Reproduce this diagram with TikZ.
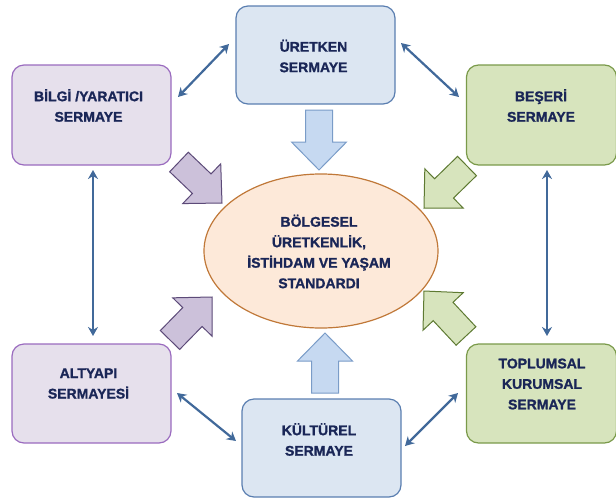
\documentclass[tikz,border=0pt]{standalone}
\usepackage{fontspec}
\setmainfont{Liberation Sans}[BoldFeatures={FakeBold=1.2}]
\usetikzlibrary{arrows.meta,calc,shapes.geometric}
\definecolor{txt}{HTML}{1A2657}
\definecolor{bluefill}{HTML}{DCE6F2}
\definecolor{blueline}{HTML}{5A7EB0}
\definecolor{purfill}{HTML}{E6E0EC}
\definecolor{purline}{HTML}{9A6BBF}
\definecolor{grnfill}{HTML}{D7E4BD}
\definecolor{grnline}{HTML}{7A9A4A}
\definecolor{elfill}{HTML}{FDE9D9}
\definecolor{elline}{HTML}{C07838}
\definecolor{dblcol}{HTML}{41699A}
\definecolor{bapfill}{HTML}{CCC1DA}
\definecolor{bapline}{HTML}{5C4A78}
\definecolor{bagfill}{HTML}{D7E4BD}
\definecolor{bagline}{HTML}{5E7A32}
\definecolor{babfill}{HTML}{C6D9F1}
\definecolor{babline}{HTML}{7A9CC8}
\tikzset{
  capbox/.style={draw, rounded corners=12pt, line width=1.2pt, inner sep=0pt},
  bluebox/.style={capbox, fill=bluefill, draw=blueline},
  purbox/.style={capbox, fill=purfill, draw=purline},
  grnbox/.style={capbox, fill=grnfill, draw=grnline},
  lbl/.style={text=txt, align=center, inner sep=0pt, font=\bfseries\fontsize{14}{20.5}\selectfont},
  dbl/.style={draw=dblcol, line width=2.2pt, {Stealth[length=9pt,width=10pt]}-{Stealth[length=9pt,width=10pt]}},
  bapur/.style={fill=bapfill, draw=bapline, line width=1pt, line join=miter},
  bagrn/.style={fill=bagfill, draw=bagline, line width=1pt, line join=miter},
  bablu/.style={fill=babfill, draw=babline, line width=1pt, line join=miter},
}
% #1 style, #2 tail coordinate, #3 tip coordinate
\newcommand\myblockarrow[3]{%
  \coordinate (hh) at ($(#3)!28pt!(#2)$);
  \draw[#1] (#3) -- ($(hh)!27.5pt!90:(#3)$) -- ($(hh)!13.5pt!90:(#3)$)
    -- ($(#2)!13.5pt!90:(#3)$) -- ($(#2)!13.5pt!-90:(#3)$)
    -- ($(hh)!13.5pt!-90:(#3)$) -- ($(hh)!27.5pt!-90:(#3)$) -- cycle;
}
\begin{document}
\begin{tikzpicture}[x=1pt,y=-1pt]
\useasboundingbox (0,0) rectangle (616,499);
% boxes
\node[bluebox, minimum width=159pt, minimum height=98pt] (uretken) at (315.5,55) {};
\node[purbox, minimum width=159pt, minimum height=100pt] (bilgi) at (91.5,115) {};
\node[grnbox, minimum width=150pt, minimum height=100pt] (beseri) at (541.5,115) {};
\node[purbox, minimum width=159pt, minimum height=99pt] (altyapi) at (91.5,393.5) {};
\node[bluebox, minimum width=159pt, minimum height=98pt] (kulturel) at (321.5,448) {};
\node[grnbox, minimum width=150pt, minimum height=99pt] (toplumsal) at (541.5,393.5) {};
\node[ellipse, draw=elline, fill=elfill, line width=1.2pt, minimum width=234pt, minimum height=154pt, inner sep=0pt] (merkez) at (321,251) {};
% labels
\node[lbl] (turetken) at (313.5,56) {ÜRETKEN\\SERMAYE};
\node[lbl] (tbilgi) at (88.5,105.5) {BİLGİ /YARATICI\\SERMAYE};
\node[lbl] (tbeseri) at (541,105.5) {BEŞERİ\\SERMAYE};
\node[lbl] (taltyapi) at (88.5,383.5) {ALTYAPI\\SERMAYESİ};
\node[lbl] (tkulturel) at (319,439.5) {KÜLTÜREL\\SERMAYE};
\node[lbl] (ttoplumsal) at (542,384) {TOPLUMSAL\\KURUMSAL\\SERMAYE};
\node[lbl] (tmerkez) at (319,251.5) {BÖLGESEL\\ÜRETKENLİK,\\İSTİHDAM VE YAŞAM\\STANDARDI};
% double arrows
\coordinate (d1a) at (178,97);  \coordinate (d1b) at (229,44);
\coordinate (d2a) at (401,43);  \coordinate (d2b) at (459,97);
\coordinate (d3a) at (93,170);  \coordinate (d3b) at (93,336);
\coordinate (d4a) at (547,170); \coordinate (d4b) at (547,336);
\coordinate (d5a) at (177,393); \coordinate (d5b) at (236,441);
\coordinate (d6a) at (405,446); \coordinate (d6b) at (458,393);
\draw[dbl] (d1a) -- (d1b);
\draw[dbl] (d2a) -- (d2b);
\draw[dbl] (d3a) -- (d3b);
\draw[dbl] (d4a) -- (d4b);
\draw[dbl] (d5a) -- (d5b);
\draw[dbl] (d6a) -- (d6b);
% block arrows
\coordinate (b1t) at (319,110); \coordinate (b1h) at (319,170);
\coordinate (b2t) at (325,393); \coordinate (b2h) at (325,333);
\coordinate (b3t) at (179,162); \coordinate (b3h) at (222,203);
\coordinate (b4t) at (170,340); \coordinate (b4h) at (212,297);
\coordinate (b5t) at (467,166); \coordinate (b5h) at (424,208);
\coordinate (b6t) at (466,336); \coordinate (b6h) at (424,291);
\myblockarrow{bablu}{b1t}{b1h}
\myblockarrow{bablu}{b2t}{b2h}
\myblockarrow{bapur}{b3t}{b3h}
\myblockarrow{bapur}{b4t}{b4h}
\myblockarrow{bagrn}{b5t}{b5h}
\myblockarrow{bagrn}{b6t}{b6h}
\end{tikzpicture}
\end{document}
